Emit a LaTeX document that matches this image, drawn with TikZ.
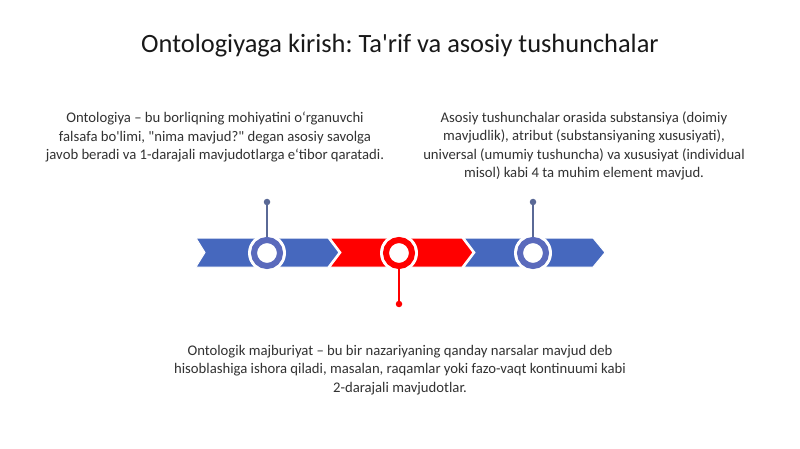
\documentclass[tikz,border=0pt]{standalone}
\usepackage{fontspec}
\setmainfont{Carlito}[Ligatures=TeXOff]
\frenchspacing
\begin{document}
\begin{tikzpicture}[x=1pt,y=-1pt,
  chevblue/.style={fill=segblue,draw=white,line width=1pt},
  chevred/.style={fill=segred,draw=white,line width=1pt},
  ringblue/.style={circle,minimum size=26pt,inner sep=0pt,fill=white,draw=ringblue,line width=6pt},
  ringred/.style={circle,minimum size=26pt,inner sep=0pt,fill=white,draw=segred,line width=6pt},
  halo/.style={circle,minimum size=38pt,inner sep=0pt,fill=white},
  pinblue/.style={draw=pinblue,line width=1.2pt},
  pinred/.style={draw=segred,line width=1.2pt},
  dot/.style={circle,minimum size=6.5pt,inner sep=0pt},
  body/.style={align=center,font=\fontsize{14.7}{18.5}\selectfont\frenchspacing,text=txtgray,inner sep=0pt}
]
\definecolor{segblue}{RGB}{70,104,190}
\definecolor{ringblue}{RGB}{90,106,188}
\definecolor{segred}{RGB}{255,0,0}
\definecolor{pinblue}{RGB}{90,105,150}
\definecolor{txtgray}{RGB}{50,50,50}
\useasboundingbox (0,0) rectangle (800,449);
\fill[white] (0,0) rectangle (800,449);

% title
\node[font=\fontsize{26.4}{31}\selectfont\frenchspacing,text=black!90] (title) at (400,46) {Ontologiyaga kirish: Ta'rif va asosiy tushunchalar};

% chevrons
\draw[chevblue] (196,238) -- (328,238) -- (339,252.5) -- (328,267) -- (196,267) -- (205,252.5) -- cycle;
\draw[chevred] (330,238) -- (462,238) -- (473,252.5) -- (462,267) -- (330,267) -- (341,252.5) -- cycle;
\draw[chevblue] (464,238) -- (593,238) -- (605,252.5) -- (593,267) -- (464,267) -- (475,252.5) -- cycle;

% rings
\node[halo] (h1) at (267,253) {};
\node[halo] (h2) at (399,253) {};
\node[halo] (h3) at (533,253) {};
\node[ringblue] (c1) at (267,253) {};
\node[ringred] (c2) at (399,253) {};
\node[ringblue] (c3) at (533,253) {};

% pins
\node[dot,fill=pinblue] (d1) at (267,202) {};
\node[dot,fill=segred] (d2) at (399,304) {};
\node[dot,fill=pinblue] (d3) at (533,202) {};
\draw[pinblue] (d1) -- (c1.north);
\draw[pinred] (c2.south) -- (d2);
\draw[pinblue] (d3) -- (c3.north);

% texts
\node[body] (t1) at (215,137) {Ontologiya – bu borliqning mohiyatini o‘rganuvchi\\falsafa bo'limi, "nima mavjud?" degan asosiy savolga\\javob beradi va 1-darajali mavjudotlarga e‘tibor qaratadi.};
\node[body] (t2) at (584,146) {Asosiy tushunchalar orasida substansiya (doimiy\\mavjudlik), atribut (substansiyaning xususiyati),\\universal (umumiy tushuncha) va xususiyat (individual\\misol) kabi 4 ta muhim element mavjud.};
\node[body] (t3) at (400,370) {Ontologik majburiyat – bu bir nazariyaning qanday narsalar mavjud deb\\hisoblashiga ishora qiladi, masalan, raqamlar yoki fazo-vaqt kontinuumi kabi\\2-darajali mavjudotlar.};
\end{tikzpicture}
\end{document}
